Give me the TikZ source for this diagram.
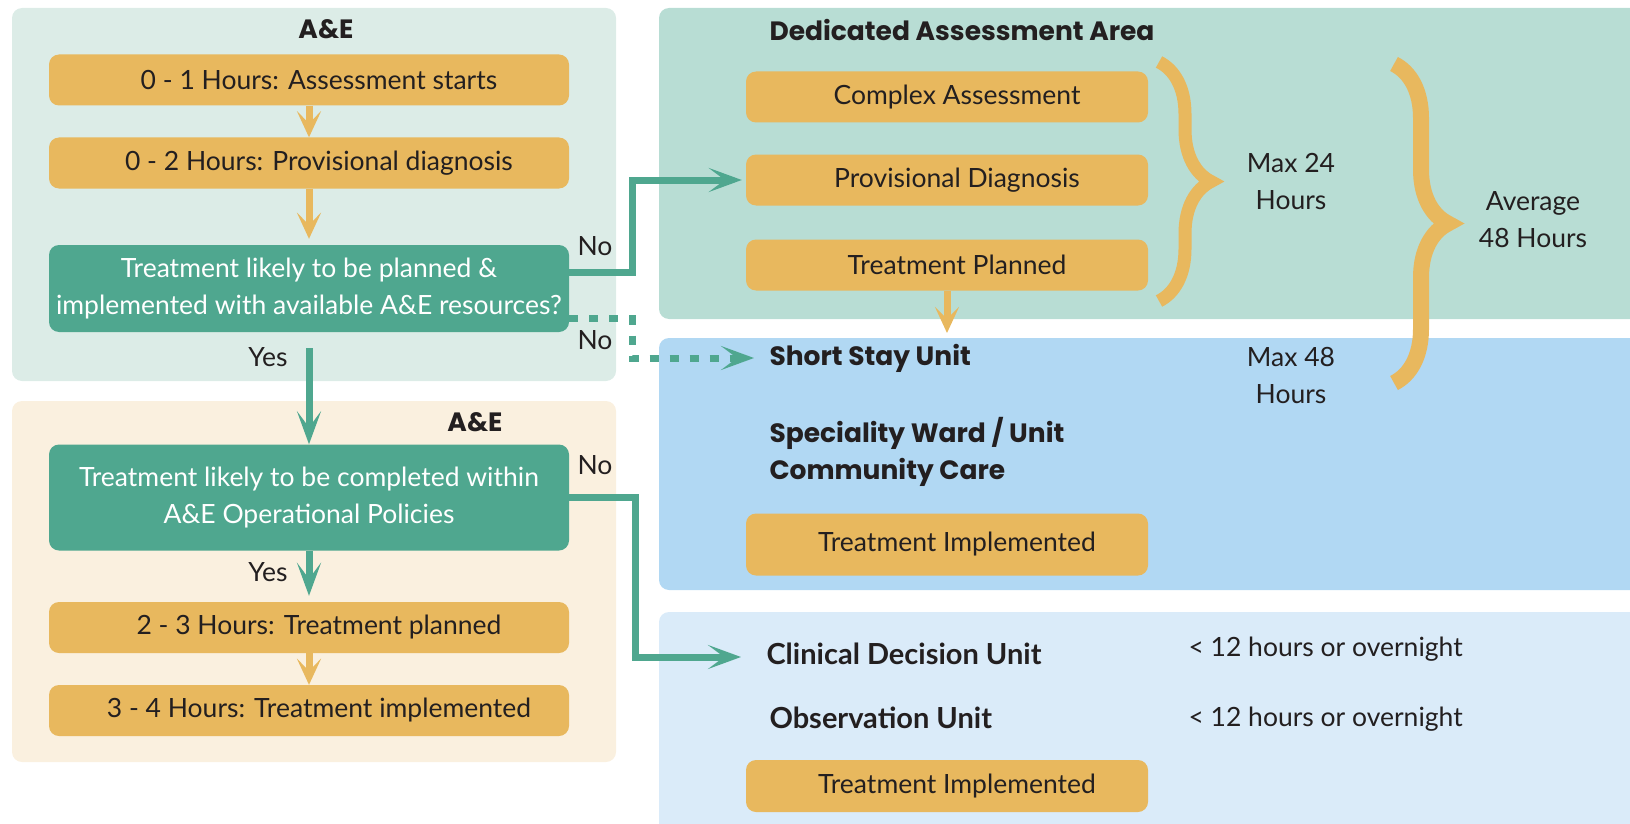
\documentclass[tikz,border=0pt]{standalone}
\usepackage{fontspec}
\setmainfont{Lato}
\newfontfamily\headfont{Poppins}
\usetikzlibrary{arrows.meta,decorations.pathreplacing}
\definecolor{aeGreen}{HTML}{DCECE7}
\definecolor{aeCream}{HTML}{FAF0DF}
\definecolor{daaGreen}{HTML}{B8DDD4}
\definecolor{ssuBlue}{HTML}{B1D8F3}
\definecolor{cduBlue}{HTML}{DAEBF9}
\definecolor{hourOrange}{HTML}{E8B85E}
\definecolor{askTeal}{HTML}{4FA78F}
\definecolor{inkText}{HTML}{231F20}
\begin{document}
\begin{tikzpicture}[
  x=1pt, y=-1pt,
  font=\fontsize{26.5}{37}\selectfont, text=inkText,
  hourbox/.style={rectangle, rounded corners=10pt, fill=hourOrange, minimum width=520pt, minimum height=51pt, inner sep=0pt, execute at begin node={\hspace*{20pt}}},
  areabox/.style={hourbox, minimum width=402pt},
  askbox/.style={rectangle, rounded corners=10pt, fill=askTeal, text=white, minimum width=520pt, inner sep=0pt, align=center},
  heading/.style={font=\headfont\bfseries\fontsize{26.5}{37}\selectfont, align=left},
  unit/.style={font=\bfseries\fontsize{29}{37}\selectfont, anchor=west},
  orangearrow/.style={-{Stealth[length=26pt,width=24pt,inset=12pt]}, line width=7pt, draw=hourOrange},
  tealarrow/.style={-{Stealth[length=33pt,width=24pt,inset=16pt]}, line width=7pt, draw=askTeal},
  dotarrow/.style={tealarrow, dash pattern=on 9pt off 11pt},
  bracket/.style={decorate, decoration={brace, amplitude=#1}, draw=hourOrange}
]
\useasboundingbox (0,0) rectangle (1630,824);
\fill[aeGreen, rounded corners=10pt] (12,8) rectangle (616,381);
\fill[aeCream, rounded corners=10pt] (12,401) rectangle (616,762);
\fill[daaGreen, rounded corners=10pt] (659,8) rectangle (1660,319);
\fill[ssuBlue, rounded corners=10pt] (659,338) rectangle (1660,590);
\fill[cduBlue, rounded corners=10pt] (659,612) rectangle (1660,850);

\node[heading] (aeTop) at (326,29) {A\&E};
\node[hourbox] (h01) at (309,80) {0 - 1 Hours: Assessment starts};
\node[hourbox] (h02) at (309,163) {0 - 2 Hours: Provisional diagnosis};
\node[askbox, minimum height=87pt] (ask1) at (309,288.5) {Treatment likely to be planned \&\\implemented with available A\&E resources?};
\node[heading] (aeLow) at (475,422) {A\&E};
\node[askbox, minimum height=106pt] (ask2) at (309,497.5) {Treatment likely to be completed within\\A\&E Operational Policies};
\node[hourbox] (h23) at (309,627.5) {2 - 3 Hours: Treatment planned};
\node[hourbox] (h34) at (309,710.5) {3 - 4 Hours: Treatment implemented};

\node[heading, anchor=west] (daa) at (766,30) {Dedicated Assessment Area};
\node[areabox] (cplx) at (947,97) {Complex Assessment};
\node[areabox] (prov) at (947,180) {Provisional Diagnosis};
\node[areabox] (plan) at (947,265) {Treatment Planned};
\coordinate (ssTop) at (947,333);
\node[heading, anchor=west] (ssu) at (766,358) {Short Stay Unit};
\node[heading, anchor=west] (ward) at (766,451.5) {Speciality Ward / Unit\\Community Care};
\node[areabox, minimum height=62pt] (impl1) at (947,544.5) {Treatment Implemented};
\node[unit] (cdu) at (763,654) {Clinical Decision Unit};
\node[unit] (obs) at (766,718) {Observation Unit};
\node[anchor=west] (cduTime) at (1185,649) {< 12 hours or overnight};
\node[anchor=west] (obsTime) at (1185,719) {< 12 hours or overnight};
\node[areabox, minimum height=52pt] (impl2) at (947,786) {Treatment Implemented};

\node[align=center] (max24) at (1291,182) {Max 24\\Hours};
\node[align=center] (max48) at (1291,376) {Max 48\\Hours};
\node[align=center] (avg48) at (1533,220) {Average\\48 Hours};

\node (no1) at (595,246) {No};
\node (no2) at (595,340) {No};
\node (yes1) at (268,357) {Yes};
\node (no3) at (595,465) {No};
\node (yes2) at (268,572) {Yes};

\draw[orangearrow] (h01) -- (h02);
\draw[orangearrow] (h02) -- ([yshift=6pt]ask1.north);
\draw[tealarrow, shorten <=16pt] (ask1) -- (ask2);
\draw[tealarrow, shorten >=6pt] (ask2) -- (h23);
\draw[orangearrow] (h23) -- (h34);
\draw[tealarrow, shorten >=4pt] ([yshift=16pt]ask1.east) -- ++(63,0) |- (prov.west);
\draw[dotarrow, shorten >=12pt] ([yshift=-30pt]ask1.east) -- ++(63,0) |- (ssu.west);
\draw[tealarrow, shorten >=22pt] (ask2.east) -- ++(66,0) |- ([yshift=-3pt]cdu.west);
\draw[orangearrow] (plan) -- (ssTop);

\draw[bracket=52pt, line width=13pt] (1159,62) -- (1159,301);
\draw[bracket=54pt, line width=16pt] (1394,64) -- (1394,383);
\end{tikzpicture}
\end{document}
